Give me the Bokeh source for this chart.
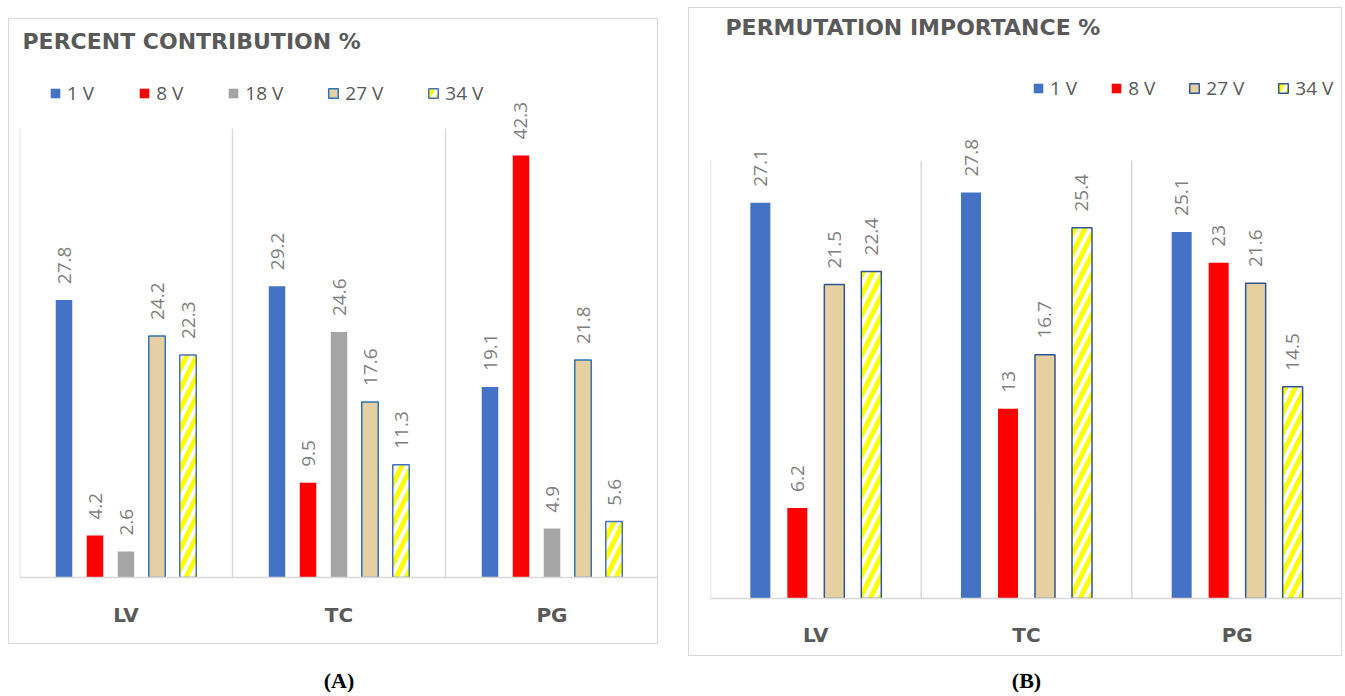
import math
from bokeh.plotting import figure
from bokeh.models import ColumnDataSource, Legend, LegendItem, Label, FactorRange, Range1d, Spacer
from bokeh.transform import dodge
from bokeh.layouts import row, column
from bokeh.core.properties import value
from bokeh.embed import file_html
from bokeh.resources import INLINE

# ---------------- data ----------------
cats = ["LV", "TC", "PG"]

a_series = ["1 V", "8 V", "18 V", "27 V", "34 V"]
a_1v = [27.8, 29.2, 19.1]
a_8v = [4.2, 9.5, 42.3]
a_18v = [2.6, 24.6, 4.9]
a_27v = [24.2, 17.6, 21.8]
a_34v = [22.3, 11.3, 5.6]

b_series = ["1 V", "8 V", "27 V", "34 V"]
b_1v = [27.1, 27.8, 25.1]
b_8v = [6.2, 13.0, 23.0]
b_27v = [21.5, 16.7, 21.6]
b_34v = [22.4, 25.4, 14.5]

title_a = "PERCENT CONTRIBUTION %"
title_b = "PERMUTATION IMPORTANCE %"
cap_a = "(A)"
cap_b = "(B)"

# ---------------- styles ----------------
TXT = "#595959"
LAB = "#7f7f7f"
GRID = "#d9d9d9"


def style_for(name, panel):
    dark = "#2F5597" if panel == "B" else None
    if name == "1 V":
        return dict(fill_color="#4472C4", line_color=None)
    if name == "8 V":
        return dict(fill_color="#FF0000", line_color=None)
    if name == "18 V":
        return dict(fill_color="#A5A5A5", line_color=None)
    if name == "27 V":
        return dict(fill_color="#E6CFA0", line_color=dark or "#2E75B6", line_width=1.5)
    return dict(fill_color="white", line_color=dark or "#4472C4", line_width=1.5,
                hatch_pattern="/", hatch_color="#FFFF00", hatch_weight=5, hatch_scale=20)


def fmt(v):
    return f"{v:g}"


def make_panel(panel, series, values, width, height, mb_left, mb_right, mb_bottom,
               ymax, yend, step, bw, lab_gap, title, title_x, title_top_px,
               leg_x, leg_y, leg_spacing, label_standoff_axis):
    p = figure(width=width, height=height, x_range=FactorRange(*cats),
               y_range=Range1d(0, yend), toolbar_location=None, output_backend="svg",
               y_axis_location=None, min_border_left=mb_left, min_border_right=mb_right,
               min_border_top=0, min_border_bottom=mb_bottom,
               styles={"border": "1px solid #d9d9d9"})
    p.outline_line_color = None
    p.xgrid.visible = False
    p.ygrid.visible = False
    p.background_fill_color = "white"
    p.border_fill_color = "white"

    ax = p.xaxis[0]
    ax.axis_line_color = GRID
    ax.axis_line_width = 1.5
    ax.major_tick_line_color = None
    ax.minor_tick_line_color = None
    ax.major_label_text_font = "DejaVu Sans"
    ax.major_label_text_font_style = "bold"
    ax.major_label_text_font_size = "20px"
    ax.major_label_text_color = TXT
    ax.major_label_standoff = label_standoff_axis

    # category separators
    bounds = list(range(len(cats) + 1))
    p.segment(x0=bounds, x1=bounds, y0=[0] * len(bounds), y1=[ymax] * len(bounds),
              line_color=GRID, line_width=1.5)

    data = {"cat": cats}
    for i, name in enumerate(series):
        key = f"s{i}"
        data[key] = values[i]
        data[key + "_ly"] = [v + lab_gap for v in values[i]]
        data[key + "_lt"] = [fmt(v) for v in values[i]]
    src = ColumnDataSource(data)

    n = len(series)
    items = []
    for i, name in enumerate(series):
        key = f"s{i}"
        off = (i - (n - 1) / 2) * step
        r = p.vbar(x=dodge("cat", off, range=p.x_range), top=key, width=bw, source=src,
                   **style_for(name, panel))
        items.append(LegendItem(label=name, renderers=[r]))
        p.text(x=dodge("cat", off, range=p.x_range), y=key + "_ly", text=key + "_lt",
               source=src, angle=math.pi / 2, text_align="left", text_baseline="middle",
               text_font=value("Open Sans"), text_font_size="19px", text_color=LAB)

    leg = Legend(items=items, orientation="horizontal", location=(leg_x, leg_y),
                 glyph_width=12, glyph_height=12, label_standoff=6, spacing=leg_spacing,
                 padding=0, margin=0, border_line_color=None, background_fill_alpha=0,
                 label_text_font="Open Sans", label_text_font_size="19px",
                 label_text_color=TXT, label_height=20)
    p.add_layout(leg, "center")

    frame_h = height - mb_bottom
    ty = yend - title_top_px * yend / frame_h
    p.add_layout(Label(x=0, y=ty, x_offset=title_x, text=title, text_font="DejaVu Sans",
                       text_font_style="bold", text_font_size="22px", text_color=TXT,
                       text_baseline="middle", text_align="left"))
    return p


def make_caption(text, width, height, y_from_bottom):
    c = figure(width=width, height=height, x_range=Range1d(0, 1), y_range=Range1d(0, height),
               toolbar_location=None, output_backend="svg", min_border=0)
    c.axis.visible = False
    c.grid.visible = False
    c.outline_line_color = None
    c.add_layout(Label(x=0.5, y=y_from_bottom, text=text, text_font="Liberation Serif",
                       text_font_style="bold", text_font_size="22px", text_color="black",
                       text_align="center", text_baseline="middle"))
    return c


# Panel A: content 650x626, frame bottom at 558, 45 at 109px from top
a_h = 626
a_mb = 68
a_frame = a_h - a_mb
a_yend = 45 * a_frame / (a_frame - 109)
pA = make_panel("A", a_series, [a_1v, a_8v, a_18v, a_27v, a_34v], 650, a_h, 10, 1, a_mb,
                45, a_yend, 31 / 213, 16.5 / 213, 1.6, title_a, 3, 22,
                30, a_frame - 77 - 10, 44, 19)

# Panel B: content 654x649, frame bottom at 590, 30 at 152px from top
b_h = 649
b_mb = 59
b_frame = b_h - b_mb
b_yend = 30 * b_frame / (b_frame - 152)
pB = make_panel("B", b_series, [b_1v, b_8v, b_27v, b_34v], 654, b_h, 21, 1, b_mb,
                30, b_yend, 37 / 210.7, 20 / 210.7, 1.1, title_b, 15, 19,
                322, b_frame - 83 - 10, 33, 18)

capA = make_caption(cap_a, 652, 50, 14)
capB = make_caption(cap_b, 656, 38, 14)

layout = row(Spacer(width=8),
             column(Spacer(height=18), pA, capA),
             Spacer(width=28),
             column(Spacer(height=7), pB, capB))

open("out.html", "w").write(file_html(layout, INLINE))
